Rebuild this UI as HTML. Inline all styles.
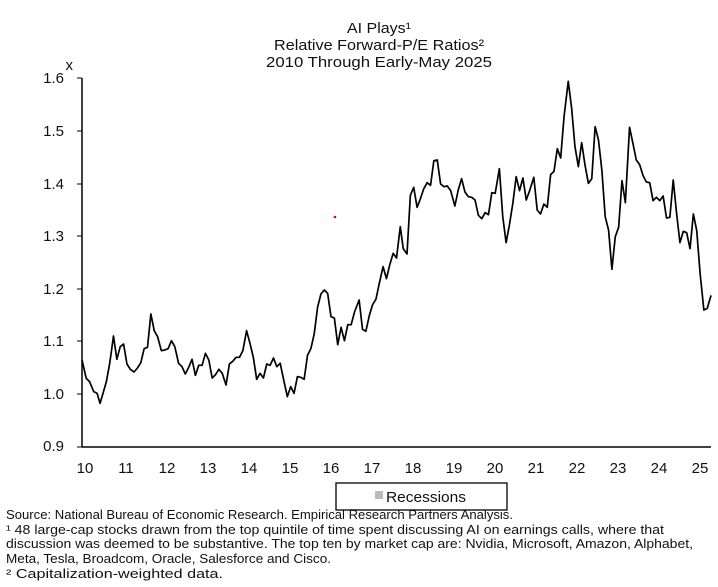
<!DOCTYPE html>
<html><head><meta charset="utf-8"><style>
html,body{margin:0;padding:0;background:#fff;}
svg{display:block;font-family:"Liberation Sans",sans-serif;}
</style></head><body>
<svg width="718" height="587" viewBox="0 0 718 587" xmlns="http://www.w3.org/2000/svg">
<g font-size="15" fill="#111" text-anchor="middle">
<text x="379" y="33" textLength="64" lengthAdjust="spacingAndGlyphs">AI Plays¹</text>
<text x="379" y="50" textLength="210" lengthAdjust="spacingAndGlyphs">Relative Forward-P/E Ratios²</text>
<text x="379" y="67" textLength="226" lengthAdjust="spacingAndGlyphs">2010 Through Early-May 2025</text>
</g>
<g font-size="15" fill="#111" text-anchor="end">
<text x="73" y="70">x</text>
<text x="64" y="83">1.6</text>
<text x="64" y="136">1.5</text>
<text x="64" y="189">1.4</text>
<text x="64" y="241">1.3</text>
<text x="64" y="294">1.2</text>
<text x="64" y="346">1.1</text>
<text x="64" y="399">1.0</text>
<text x="64" y="451">0.9</text>
</g>
<line x1="82" y1="78" x2="82" y2="447" stroke="#000" stroke-width="1.5"/>
<line x1="82" y1="447" x2="711" y2="447" stroke="#000" stroke-width="1.5"/>
<g stroke="#000" stroke-width="1">
<line x1="77" y1="78" x2="82" y2="78"/><line x1="77" y1="131" x2="82" y2="131"/>
<line x1="77" y1="184" x2="82" y2="184"/><line x1="77" y1="236" x2="82" y2="236"/>
<line x1="77" y1="289" x2="82" y2="289"/><line x1="77" y1="341" x2="82" y2="341"/>
<line x1="77" y1="394" x2="82" y2="394"/><line x1="77" y1="447" x2="82" y2="447"/>
</g>
<g font-size="15" fill="#111" text-anchor="middle">
<text x="85" y="473">10</text><text x="126" y="473">11</text><text x="167" y="473">12</text>
<text x="208" y="473">13</text><text x="249" y="473">14</text><text x="290" y="473">15</text>
<text x="331" y="473">16</text><text x="372" y="473">17</text><text x="413" y="473">18</text>
<text x="454" y="473">19</text><text x="495" y="473">20</text><text x="536" y="473">21</text>
<text x="577" y="473">22</text><text x="618" y="473">23</text><text x="659" y="473">24</text>
<text x="700" y="473">25</text>
</g>
<g transform="translate(60.17,60) scale(0.4199,0.33333)">
<polyline fill="none" stroke="#000" stroke-width="1.7" vector-effect="non-scaling-stroke" stroke-linejoin="round" points="52,900 62,955 70,965 80,995 88,1000 95,1030 102,1000 110,965 118,910 127,828 135,898 143,860 151,852 159,912 167,928 176,936 184,924 192,908 200,866 208,862 216,762 224,812 232,830 241,872 249,870 257,866 265,842 273,860 282,910 290,920 298,942 306,922 314,898 322,946 330,916 338,916 346,880 354,900 362,954 370,944 378,928 386,940 395,975 403,912 411,904 419,892 427,892 435,872 444,812 452,850 460,892 468,958 476,940 484,954 492,912 500,916 508,894 516,920 524,910 532,958 541,1010 549,980 557,1000 565,950 573,952 581,958 589,886 597,866 605,822 613,742 621,702 629,690 637,700 645,770 653,774 661,854 669,802 677,842 685,794 693,794 701,756 712,720 720,808 728,814 736,768 744,734 752,718 760,670 769,620 777,656 785,614 793,580 801,594 810,500 817,566 826,582 834,406 842,382 850,442 858,416 866,386 874,368 882,376 890,302 898,300 906,372 914,380 922,378 930,392 940,438 948,390 956,356 964,396 972,410 980,412 988,420 996,466 1004,476 1012,458 1020,464 1028,398 1036,400 1046,326 1054,470 1062,548 1070,494 1078,430 1086,350 1094,392 1102,354 1110,420 1118,392 1128,352 1136,450 1144,462 1152,432 1160,442 1168,344 1176,334 1184,266 1192,294 1200,170 1210,64 1218,144 1226,260 1234,320 1242,248 1250,316 1258,370 1266,356 1274,200 1282,240 1290,330 1298,470 1306,510 1314,628 1322,530 1330,502 1338,362 1346,428 1356,202 1364,250 1372,300 1380,314 1388,346 1396,366 1404,368 1412,422 1420,412 1428,422 1436,408 1444,474 1452,472 1460,360 1468,460 1476,548 1484,514 1492,518 1500,566 1508,462 1516,512 1524,640 1533,750 1541,745 1550,706"/>
</g>
<circle cx="335" cy="217" r="1.3" fill="#e00"/>
<rect x="336" y="483" width="171" height="27" fill="#fff" stroke="#000" stroke-width="1.3"/>
<rect x="375" y="491" width="8" height="8" fill="#bbb"/>
<text x="386" y="502" font-size="15" fill="#111" textLength="80" lengthAdjust="spacingAndGlyphs">Recessions</text>
<g font-size="13" fill="#111">
<text x="6" y="519" textLength="507" lengthAdjust="spacingAndGlyphs">Source: National Bureau of Economic Research. Empirical Research Partners Analysis.</text>
<text x="6" y="534" textLength="658" lengthAdjust="spacingAndGlyphs">¹ 48 large-cap stocks drawn from the top quintile of time spent discussing AI on earnings calls, where that</text>
<text x="6" y="548" textLength="687" lengthAdjust="spacingAndGlyphs">discussion was deemed to be substantive. The top ten by market cap are: Nvidia, Microsoft, Amazon, Alphabet,</text>
<text x="6" y="563" textLength="325" lengthAdjust="spacingAndGlyphs">Meta, Tesla, Broadcom, Oracle, Salesforce and Cisco.</text>
<text x="6" y="578" textLength="217" lengthAdjust="spacingAndGlyphs">² Capitalization-weighted data.</text>
</g>
</svg>
</body></html>
